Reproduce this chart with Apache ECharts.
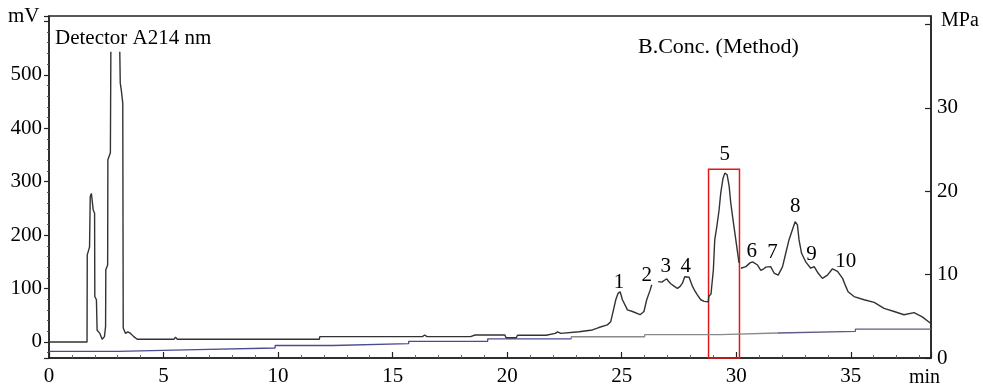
<!DOCTYPE html>
<html>
<head>
<meta charset="utf-8">
<script src="https://cdn.jsdelivr.net/npm/echarts@6/dist/echarts.min.js"></script>
<style>
html,body{margin:0;padding:0;background:#fff;}
#chart{width:983px;height:389px;}
</style>
</head>
<body>
<div id="chart"></div>
<script>
// Chromatogram (Detector A 214 nm), time in min, signal in mV. null = gap in trace
const chromTime = [0,1.66,1.67,1.77,1.80,1.85,1.91,1.93,1.99,2.00,2.07,2.10,2.22,2.32,2.42,2.47,2.48,2.56,2.57,2.68,2.70,2.90,3.09,3.11,3.16,3.22,3.24,3.34,3.44,3.56,3.70,3.85,5.45,5.52,5.60,11.80,11.82,16.30,16.40,16.50,18.40,18.42,18.60,18.65,18.75,19.90,19.95,20.40,20.45,21.70,21.72,22.10,22.20,22.34,23.14,23.72,24.00,24.37,24.52,24.64,24.74,24.84,24.93,25.03,25.25,25.47,25.80,25.97,26.09,26.24,26.31,26.45,26.59,26.75,26.85,26.97,27.05,27.14,27.30,27.43,27.55,27.65,27.75,27.94,28.09,28.20,28.30,28.45,28.60,28.78,28.80,28.90,28.92,29.00,29.06,29.15,29.25,29.32,29.42,29.50,29.60,29.69,29.76,29.86,29.98,30.10,30.12,30.16,30.20,30.42,30.60,30.71,30.93,31.07,31.20,31.29,31.50,31.65,31.83,32.02,32.16,32.30,32.45,32.57,32.67,32.74,32.85,33.03,33.25,33.40,33.57,33.76,33.98,34.20,34.42,34.64,34.78,34.88,35.14,35.58,36.02,36.45,36.89,37.32,37.76,38.12,38.48];
const chromMV   = [0,0,163,178,272,278,277,247,241,85,79,22,16,5,10,29,135,144,341,354,543,null,543,485,470,447,26,16,19,16,10,5,5,9,5,5,10,10,13,10,10,13,13,10,13,13,8,8,12.5,12.5,15,16,19,16,19,22.5,27,32,38,60,79,91,94,79,60,57,51,57,79,97,107,null,113,112,115,118,113,109,104,100,104,110,122,121,104,95,88,79,76,75,85,90,100,135,191,216,247,278,306,316,313,291,260,228,191,154,148,null,138,141,148,150,144,134,137,140,141,129,125,141,166,191,210,225,219,191,166,150,138,141,129,119,125,137,132,119,104,94,85,79,74,63,57,51,55,47,35];

// B.Conc. (Method) trace on right axis (MPa scale), step changes
const concTime = [0,3.0,6.45,9.87,12.4,15.7,19.15,22.8,26.0,29.3,31.8,35.2,38.5];
const concVal  = [0.8,1.0,1.2,1.5,1.72,2.0,2.3,2.55,2.8,3.0,3.2,3.45,3.45];

// Peak numbers and their label anchor (time, mV)
const peakNames = ['1','2','3','4','5','6','7','8','9','10'];
const peakTime  = [24.88,26.09,26.92,27.79,29.50,30.68,31.58,32.57,33.28,34.78];
const peakMV    = [111,125,141,141,350,169,168,253,164,150];

// Highlighted region (peak 5)
const boxTime = [28.79, 30.14];
const boxMV   = [-30, 323];

const xTicks = [0,5,10,15,20,25,30,35];

const chromData = chromTime.map((t,i)=>[t, chromMV[i]]);
const concData = concTime.map((t,i)=>[t, concVal[i]]);
const peakData = peakNames.map((n,i)=>({value:[peakTime[i], peakMV[i]], name:n}));

const FF = '"Liberation Serif","Times New Roman",serif';
const chart = echarts.init(document.getElementById('chart'), null, {renderer:'canvas'});
chart.setOption({
  animation:false,
  backgroundColor:'#fff',
  grid:{left:49, right:52, top:16, bottom:31, show:true, borderColor:'#222', borderWidth:1.5, backgroundColor:'transparent'},
  xAxis:{
    type:'value', min:0, max:38.5, interval:5,
    axisLine:{show:true, onZero:false, lineStyle:{color:'#222', width:1.5}},
    axisTick:{show:true, inside:true, length:6, lineStyle:{color:'#222', width:1.2}},
    minorTick:{show:true, splitNumber:5, length:3, lineStyle:{color:'#666', width:1}},
    axisLabel:{show:true, showMaxLabel:false, margin:8, fontSize:21, fontFamily:FF, color:'#000',
      formatter:v=> xTicks.includes(v) ? String(v) : ''},
    splitLine:{show:false}
  },
  yAxis:[{
    type:'value', min:-30, max:610, splitNumber:6, minInterval:100, maxInterval:100,
    position:'left',
    axisLine:{show:true, onZero:false, lineStyle:{color:'#222', width:1.5}},
    axisTick:{show:true, inside:false, length:5, lineStyle:{color:'#222', width:1.2}},
    minorTick:{show:true, splitNumber:5, length:2, lineStyle:{color:'#555', width:1}},
    axisLabel:{showMinLabel:false, showMaxLabel:false, margin:7, fontSize:21, fontFamily:FF, color:'#000',
      formatter:v=> (v%100===0 && v>=0 && v<=500) ? String(v) : ''},
    splitLine:{show:false}
  },{
    type:'value', min:0, max:41, interval:10, position:'right',
    axisLine:{show:true, onZero:false, lineStyle:{color:'#222', width:1.5}},
    axisTick:{show:true, inside:true, length:6, lineStyle:{color:'#222', width:1.2}},
    axisLabel:{showMaxLabel:false, margin:6, fontSize:21, fontFamily:FF, color:'#000',
      formatter:v=> (v<=30 && v%10===0) ? String(v) : ''},
    splitLine:{show:false}
  }],
  visualMap:[{
    show:false, type:'piecewise', seriesIndex:1, dimension:0,
    pieces:[{lt:22.8, color:'#4b4b8f'},{gte:22.8, lt:31.8, color:'#8a8a8a'},{gte:31.8, color:'#5b5b85'}]
  }],
  series:[{
    type:'line', name:'Detector A', yAxisIndex:0, data:chromData, showSymbol:false, connectNulls:false,
    lineStyle:{color:'#333333', width:1.4}, z:3,
    markArea:{silent:true, itemStyle:{color:'rgba(0,0,0,0)', borderColor:'#e01818', borderWidth:1.5},
      data:[[{coord:[boxTime[0], boxMV[0]]},{coord:[boxTime[1], boxMV[1]]}]]}
  },{
    type:'line', name:'B.Conc', yAxisIndex:1, data:concData, step:'end', showSymbol:false,
    lineStyle:{width:1.3}, z:2
  },{
    type:'scatter', yAxisIndex:0, data:peakData, symbolSize:0.1, silent:true,
    itemStyle:{color:'#000', opacity:0},
    label:{show:true, position:'inside', formatter:p=>p.name, fontSize:21, fontFamily:FF, color:'#000',
      textBorderWidth:0, opacity:1}
  }],
  graphic:[
    {type:'text', x:8, y:16, style:{text:'mV', font:'21px '+FF, fill:'#000', align:'left', verticalAlign:'middle'}},
    {type:'text', x:941, y:21, style:{text:'MPa', font:'20px '+FF, fill:'#000', align:'left', verticalAlign:'middle'}},
    {type:'text', x:909, y:378, style:{text:'min', font:'20px '+FF, fill:'#000', align:'left', verticalAlign:'middle'}},
    {type:'text', x:55, y:38, style:{text:'Detector A214 nm', font:'21px '+FF, fill:'#000', align:'left', verticalAlign:'middle'}},
    {type:'text', x:638, y:47, style:{text:'B.Conc. (Method)', font:'22px '+FF, fill:'#000', align:'left', verticalAlign:'middle'}}
  ]
});
</script>
</body>
</html>
